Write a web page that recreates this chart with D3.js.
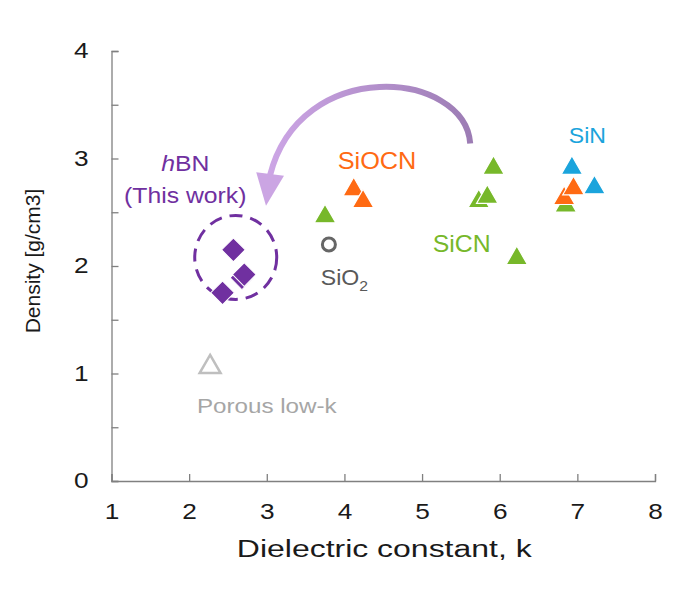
<!DOCTYPE html>
<html>
<head>
<meta charset="utf-8">
<script src="https://cdn.jsdelivr.net/npm/d3@7"></script>
<style>
  body { margin: 0; background: #fff; }
  text { font-family: "Liberation Sans", Arial, sans-serif; }
</style>
</head>
<body>
<div id="chart"></div>
<script>
// data: [k, density]
var hbn = [[2.57, 2.15], [2.68, 1.89], [2.71, 1.92], [2.43, 1.75]];
var sio2 = [[3.8, 2.2]];
var porous = [[2.27, 1.06]];
var sicn = [[3.75, 2.46], [5.92, 2.91], [5.73, 2.6], [5.84, 2.64], [6.22, 2.07], [6.85, 2.56]];
var siocn = [[4.12, 2.71], [4.24, 2.6], [6.83, 2.63], [6.95, 2.72]];
var sin = [[6.93, 2.91], [7.22, 2.73]];
var xTicks = [1, 2, 3, 4, 5, 6, 7, 8];
var yTicks = [0, 0.5, 1, 1.5, 2, 2.5, 3, 3.5, 4];
// arrow path in data units: start, control1, control2, end, then head tip
var arrowPts = [[5.62, 3.14], [5.55, 3.82], [3.43, 3.96], [3.04, 2.84]];
var arrowTip = [2.99, 2.56];

var margin = {top: 51, right: 39, bottom: 121, left: 111.5},
    width = 694 - margin.left - margin.right,
    height = 602 - margin.top - margin.bottom;

var svg = d3.select("#chart")
  .append("svg")
    .attr("width", 694)
    .attr("height", 602)
  .append("g")
    .attr("transform", "translate(" + margin.left + "," + margin.top + ")");

var x = d3.scaleLinear().domain([1, 8]).range([0, width]);
var y = d3.scaleLinear().domain([0, 4]).range([height, 0]);

// the original text is rendered a bit wide, so stretch it horizontally
var tickStretch = 1.22;

// axes
var xAxis = svg.append("g")
  .attr("transform", "translate(0," + height + ")")
  .call(d3.axisBottom(x).tickValues(xTicks).tickSize(-7).tickPadding(23).tickFormat(d3.format("d")));
var yAxis = svg.append("g")
  .call(d3.axisLeft(y).tickValues(yTicks).tickSize(-7).tickPadding(0)
    .tickFormat(function(d) { return d % 1 === 0 ? d : ""; }));
[xAxis, yAxis].forEach(function(a) {
  a.select(".domain").attr("stroke", "#808080").attr("stroke-width", 1.3);
  a.selectAll(".tick line").attr("stroke", "#808080").attr("stroke-width", 1.3);
  a.selectAll(".tick text").attr("fill", "#1a1a1a").style("font-size", "21.5px")
    .style("font-family", "'Liberation Sans', Arial, sans-serif")
    .attr("transform", "scale(" + tickStretch + ",1)");
});
yAxis.selectAll(".tick text").attr("x", -23 / tickStretch);

// axis titles
svg.append("text")
  .attr("transform", "translate(" + (width / 2 + 1) + "," + (height + 76) + ") scale(1.36,1)")
  .attr("text-anchor", "middle")
  .style("font-size", "23.5px").attr("fill", "#1a1a1a")
  .text("Dielectric constant, k");
svg.append("text")
  .attr("transform", "translate(-72," + (height / 2 - 5) + ") rotate(-90)")
  .attr("text-anchor", "middle")
  .style("font-size", "21px").attr("fill", "#1a1a1a")
  .text("Density [g/cm3]");

// curved arrow with gradient
var defs = svg.append("defs");
var grad = defs.append("linearGradient")
  .attr("id", "arrowGrad")
  .attr("gradientUnits", "userSpaceOnUse")
  .attr("x1", x(3)).attr("y1", 0).attr("x2", x(5.7)).attr("y2", 0);
grad.append("stop").attr("offset", "0%").attr("stop-color", "#cda6e6");
grad.append("stop").attr("offset", "100%").attr("stop-color", "#9b7bb3");

var p = d3.path();
p.moveTo(x(arrowPts[0][0]), y(arrowPts[0][1]));
p.bezierCurveTo(x(arrowPts[1][0]), y(arrowPts[1][1]), x(arrowPts[2][0]), y(arrowPts[2][1]),
  x(arrowPts[3][0]), y(arrowPts[3][1]));
svg.append("path")
  .attr("d", p.toString())
  .attr("fill", "none")
  .attr("stroke", "url(#arrowGrad)")
  .attr("stroke-width", 6);

// arrow head
var tx = x(arrowTip[0]), ty = y(arrowTip[1]);
var ex = x(arrowPts[3][0]), ey = y(arrowPts[3][1]);
var ang = Math.atan2(ty - ey, tx - ex);
var hl = 32, hw = 14;
var bx = tx - hl * Math.cos(ang), by = ty - hl * Math.sin(ang);
svg.append("path")
  .attr("d", "M" + tx + "," + ty +
    "L" + (bx + hw * Math.sin(ang)) + "," + (by - hw * Math.cos(ang)) +
    "L" + (bx - hw * Math.sin(ang)) + "," + (by + hw * Math.cos(ang)) + "Z")
  .attr("fill", "#cba5e3");

// dashed circle around hBN
svg.append("ellipse")
  .attr("cx", x(2.6)).attr("cy", y(2.08))
  .attr("rx", 41).attr("ry", 42)
  .attr("fill", "none")
  .attr("stroke", "#7030a0")
  .attr("stroke-width", 3)
  .attr("stroke-dasharray", "13,8");

var tri = d3.symbol().type(d3.symbolTriangle).size(200);

function triangles(data, color) {
  svg.append("g").selectAll("path")
    .data(data)
    .enter()
    .append("path")
      .attr("d", tri)
      .attr("transform", function(d) { return "translate(" + x(d[0]) + "," + y(d[1]) + ")"; })
      .attr("fill", color)
      .attr("stroke", "#fff")
      .attr("stroke-width", 1.2);
}
triangles(sicn, "#77b82a");
triangles(siocn, "#ff6a13");
triangles(sin, "#1ba4dc");

// open markers
svg.append("g").selectAll("path")
  .data(porous)
  .enter()
  .append("path")
    .attr("d", d3.symbol().type(d3.symbolTriangle).size(190))
    .attr("transform", function(d) { return "translate(" + x(d[0]) + "," + y(d[1]) + ")"; })
    .attr("fill", "none")
    .attr("stroke", "#bfbfbf")
    .attr("stroke-width", 2.5);
svg.append("g").selectAll("circle")
  .data(sio2)
  .enter()
  .append("circle")
    .attr("cx", function(d) { return x(d[0]); })
    .attr("cy", function(d) { return y(d[1]); })
    .attr("r", 6.5)
    .attr("fill", "none")
    .attr("stroke", "#666")
    .attr("stroke-width", 3);

// hBN diamonds
svg.append("g").selectAll("path")
  .data(hbn)
  .enter()
  .append("path")
    .attr("d", d3.symbol().type(d3.symbolSquare).size(280))
    .attr("transform", function(d) { return "translate(" + x(d[0]) + "," + y(d[1]) + ") rotate(45)"; })
    .attr("fill", "#7030a0")
    .attr("stroke", "#fff")
    .attr("stroke-width", 1);

// labels
function label(kx, ky, color, size, stretch) {
  return svg.append("text")
    .attr("transform", "translate(" + x(kx) + "," + y(ky) + ") scale(" + stretch + ",1)")
    .attr("text-anchor", "middle")
    .style("font-size", size + "px")
    .attr("fill", color);
}
var hl1 = label(1.95, 2.88, "#7030a0", 22.5, 1.1);
hl1.append("tspan").style("font-style", "italic").text("h");
hl1.append("tspan").text("BN");
label(1.95, 2.59, "#7030a0", 22.5, 1.1).text("(This work)");
label(4.42, 2.9, "#ff6a13", 23, 1.1).text("SiOCN");
label(7.13, 3.14, "#1ba4dc", 22, 1.05).text("SiN");
label(5.51, 2.13, "#77b82a", 23, 1.08).text("SiCN");
label(3.0, 0.63, "#a6a6a6", 20.5, 1.18).text("Porous low-k");
var so = label(4.0, 1.82, "#595959", 22, 1.05);
so.append("tspan").text("SiO");
so.append("tspan").attr("dy", 6).style("font-size", "15px").text("2");
</script>
</body>
</html>
